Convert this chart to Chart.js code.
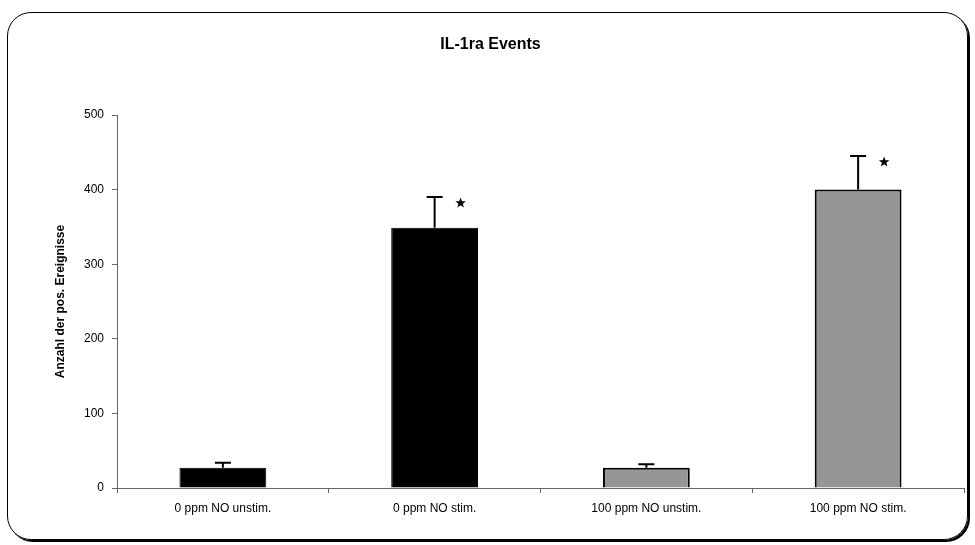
<!DOCTYPE html>
<html><head><meta charset="utf-8">
<script src="https://cdn.jsdelivr.net/npm/chart.js@4.4.1/dist/chart.umd.min.js"></script>
<style>
html,body{margin:0;padding:0;background:#fff;}
#wrap{position:relative;width:975px;height:545px;}
#frame{position:absolute;left:7px;top:12px;width:959px;height:526px;border:1px solid #000;border-radius:24px;box-shadow:2px 2px 0 #000;}
canvas{position:absolute;left:0;top:0;}
</style></head>
<body>
<div id="wrap"><div id="frame"></div><canvas id="c" width="975" height="545"></canvas></div>
<script>
const categories = ["0 ppm NO unstim.", "0 ppm NO stim.", "100 ppm NO unstim.", "100 ppm NO stim."];
const values = [27, 349, 27, 400];
const errors = [7, 41, 5, 45];
const significant = [false, true, false, true];
const yTicks = [0, 100, 200, 300, 400, 500];
const barColors = ["#000000", "#000000", "#969696", "#969696"];
const chartTitle = "IL-1ra Events";
const yTitle = "Anzahl der pos. Ereignisse";

const FONT = "'Liberation Sans', Arial, sans-serif";

const extras = {
  id: 'extras',
  afterDatasetsDraw(chart) {
    const ctx = chart.ctx;
    const meta = chart.getDatasetMeta(0);
    const y = chart.scales.y;
    ctx.save();
    ctx.strokeStyle = '#000';
    ctx.fillStyle = '#000';
    meta.data.forEach((bar, i) => {
      const top = y.getPixelForValue(values[i] + errors[i]);
      const x = bar.x;
      ctx.lineWidth = 2;
      ctx.beginPath();
      ctx.moveTo(x, bar.y);
      ctx.lineTo(x, top);
      ctx.moveTo(x - 8, top);
      ctx.lineTo(x + 8, top);
      ctx.stroke();
      if (significant[i]) {
        const cx = x + 26, cy = top + 6, R = 5.5, r = 2.3;
        ctx.beginPath();
        for (let k = 0; k < 10; k++) {
          const a = -Math.PI / 2 + k * Math.PI / 5;
          const rad = k % 2 === 0 ? R : r;
          const px = cx + rad * Math.cos(a), py = cy + rad * Math.sin(a);
          if (k === 0) ctx.moveTo(px, py); else ctx.lineTo(px, py);
        }
        ctx.closePath();
        ctx.fill();
      }
    });
    // title
    ctx.font = "bold 16px " + FONT;
    ctx.textAlign = 'center';
    ctx.textBaseline = 'middle';
    ctx.fillText(chartTitle, chart.width / 2 + 3, 45);
    ctx.restore();
  }
};

new Chart(document.getElementById('c'), {
  type: 'bar',
  data: {
    labels: categories,
    datasets: [{
      data: values,
      backgroundColor: barColors,
      borderColor: '#000',
      borderWidth: [1, 1, 2, 2],
      barPercentage: 0.41,
      categoryPercentage: 1.0
    }]
  },
  options: {
    responsive: false,
    animation: false,
    devicePixelRatio: 1,
    layout: { padding: { top: 115, right: 11, left: 0, bottom: 0 } },
    plugins: { legend: { display: false }, tooltip: { enabled: false }, title: { display: false } },
    scales: {
      x: {
        offset: true,
        grid: { display: true, drawOnChartArea: false, offset: true, tickLength: 5, color: '#666666' },
        border: { color: '#666666', width: 1 },
        ticks: { color: '#000', font: { family: FONT, size: 12 }, padding: 8, maxRotation: 0 },
        afterFit(s) { s.height = 57; }
      },
      y: {
        min: 0, max: 500,
        afterBuildTicks(s) { s.ticks = yTicks.map(v => ({ value: v })); },
        grid: { display: true, drawOnChartArea: false, tickLength: 5, color: '#666666' },
        border: { color: '#666666', width: 1 },
        ticks: { color: '#000', font: { family: FONT, size: 12 }, padding: 8 },
        title: { display: true, text: yTitle, color: '#000', font: { family: FONT, size: 12, weight: 'bold' }, padding: { top: 53, bottom: 0 } },
        afterFit(s) { s.width = 117; }
      }
    }
  },
  plugins: [extras]
});
</script>
</body></html>
